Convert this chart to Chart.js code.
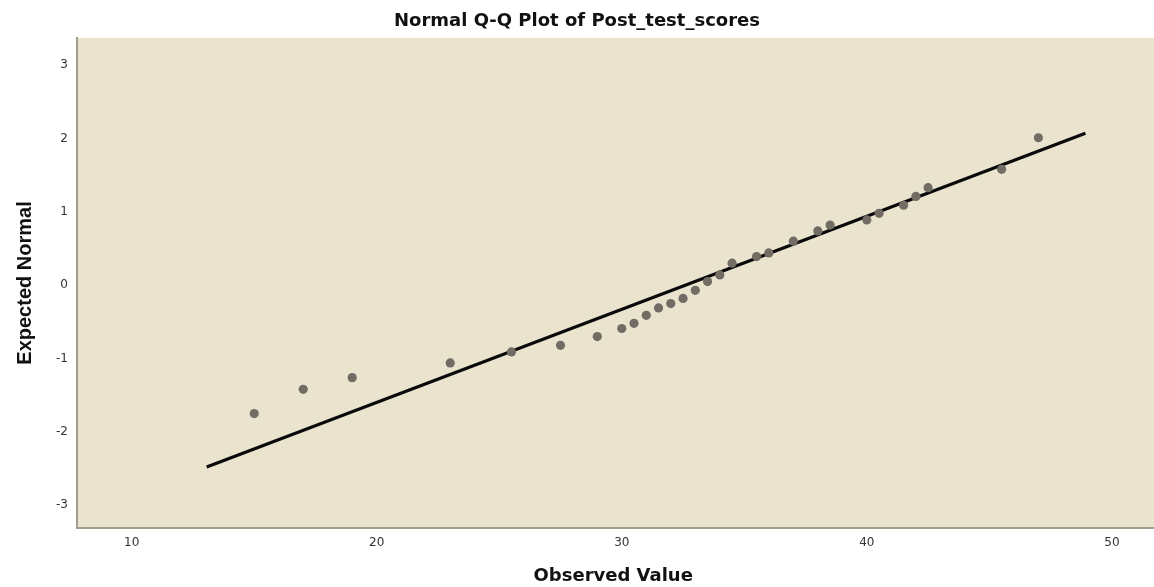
<!DOCTYPE html>
<html>
<head>
<meta charset="utf-8">
<script src="https://cdn.jsdelivr.net/npm/chart.js@4"></script>
<style>
  html, body { margin: 0; padding: 0; background: #ffffff; }
  #wrap { width: 1154px; height: 587px; position: relative; }
</style>
</head>
<body>
<div id="wrap"><canvas id="c" width="1154" height="587"></canvas></div>
<script>
const observedValues = [15, 17, 19, 23, 25.5, 27.5, 29, 30, 30.5, 31, 31.5, 32, 32.5, 33, 33.5, 34, 34.5, 35.5, 36, 37, 38, 38.5, 40, 40.5, 41.5, 42, 42.5, 45.5, 47];
const expectedNormal = [-1.75, -1.42, -1.26, -1.06, -0.91, -0.82, -0.70, -0.59, -0.52, -0.41, -0.31, -0.25, -0.18, -0.07, 0.05, 0.14, 0.30, 0.39, 0.44, 0.60, 0.74, 0.82, 0.89, 0.98, 1.09, 1.21, 1.33, 1.58, 2.01];
// Reference line endpoints
const lineX = [13.06, 48.92];
const lineY = [-2.48, 2.07];
const xTicks = [10, 20, 30, 40, 50];
const yTicks = [-3, -2, -1, 0, 1, 2, 3];

const points = observedValues.map((x, i) => ({ x: x, y: expectedNormal[i] }));
const linePts = lineX.map((x, i) => ({ x: x, y: lineY[i] }));

const bgPlugin = {
  id: 'plotBg',
  beforeDraw(chart) {
    const { ctx, chartArea: a } = chart;
    ctx.save();
    ctx.fillStyle = '#eae4cf';
    ctx.fillRect(a.left, a.top, chart.width - a.left, a.bottom - a.top);
    ctx.restore();
  },
  afterDraw(chart) {
    const { ctx, chartArea: a } = chart;
    const y = Math.round(a.bottom);
    ctx.save();
    ctx.strokeStyle = '#a39d90';
    ctx.lineWidth = 2;
    ctx.beginPath();
    ctx.moveTo(a.right - 2, y);
    ctx.lineTo(chart.width, y);
    ctx.stroke();
    ctx.restore();
  }
};

new Chart(document.getElementById('c'), {
  type: 'scatter',
  data: {
    datasets: [
      {
        type: 'line',
        data: linePts,
        borderColor: '#0a0a0a',
        borderWidth: 3.2,
        pointRadius: 0,
        fill: false,
        order: 2
      },
      {
        data: points,
        backgroundColor: '#716d65',
        borderColor: '#716d65',
        pointRadius: 4.6,
        pointBorderWidth: 0,
        order: 1
      }
    ]
  },
  plugins: [bgPlugin],
  options: {
    responsive: false,
    animation: false,
    layout: { padding: { left: 0, right: 0, top: 0, bottom: 0 } },
    plugins: {
      legend: { display: false },
      tooltip: { enabled: false },
      title: {
        display: true,
        text: 'Normal Q-Q Plot of Post_test_scores',
        color: '#111111',
        font: { family: 'DejaVu Sans, Verdana, sans-serif', size: 18, weight: 'bold', lineHeight: 1.2 },
        padding: { top: 10.5, bottom: 5.9 }
      }
    },
    scales: {
      x: {
        type: 'linear',
        min: 7.77,
        max: 51.53,
        afterBuildTicks(scale) { scale.ticks = xTicks.map(v => ({ value: v })); },
        afterFit(scale) { scale.height = 59; },
        grid: { display: false, drawTicks: false },
        border: { display: true, color: '#a39d90', width: 2 },
        ticks: {
          padding: 8,
          color: '#333333',
          font: { family: 'DejaVu Sans, Verdana, sans-serif', size: 12 },
          callback: v => String(v)
        },
        title: {
          display: true,
          text: 'Observed Value',
          color: '#111111',
          font: { family: 'DejaVu Sans, Verdana, sans-serif', size: 18, weight: 'bold', lineHeight: 1.2 },
          padding: { top: 0, bottom: 0 }
        }
      },
      y: {
        type: 'linear',
        min: -3.31,
        max: 3.37,
        afterBuildTicks(scale) { scale.ticks = yTicks.map(v => ({ value: v })); },
        afterFit(scale) { scale.width = 77; },
        grid: { display: false, drawTicks: false },
        border: { display: true, color: '#a39d90', width: 2 },
        ticks: {
          padding: 9,
          color: '#333333',
          font: { family: 'DejaVu Sans, Verdana, sans-serif', size: 12 },
          callback: v => String(v)
        },
        title: {
          display: true,
          text: 'Expected Normal',
          color: '#111111',
          font: { family: 'Liberation Sans, Arial, sans-serif', size: 20, weight: 'bold', lineHeight: 1.2 },
          padding: { top: 13, bottom: 0 }
        }
      }
    }
  }
});
</script>
</body>
</html>
